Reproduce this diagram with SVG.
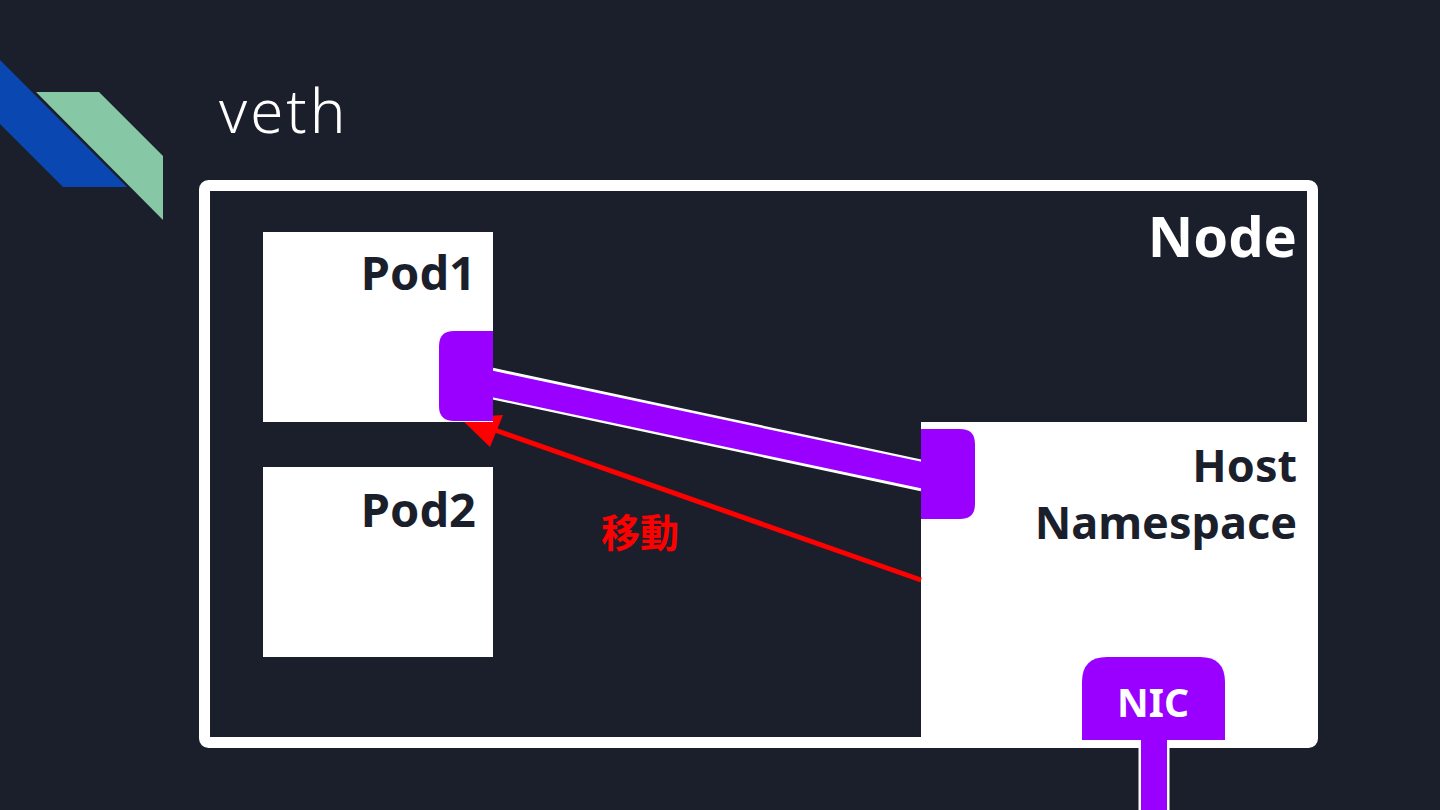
<svg xmlns="http://www.w3.org/2000/svg" width="1440" height="810" viewBox="0 0 1440 810">
<style>
.bg{fill:#1b1f2b}
.white{fill:#ffffff}
.purple{fill:#9900ff}
.lbl{font-family:"Noto Sans","Open Sans","DejaVu Sans",sans-serif;font-weight:700;fill:#1b1f2b;text-anchor:end}
</style>
<rect class="bg" x="0" y="0" width="1440" height="810"/>
<g id="logo">
<polygon points="0,60 127,187 63,187 0,124" fill="#0a47b0"/>
<polygon points="36,92 99,92 163,156 163,220" fill="#86c8a5"/>
</g>
<text id="title" x="219" y="133" font-family="Noto Sans, Open Sans, sans-serif" font-weight="300" font-size="60" letter-spacing="3" fill="#ffffff">veth</text>
<g id="node">
<rect x="204.5" y="185.5" width="1108" height="557" rx="4" fill="none" stroke="#ffffff" stroke-width="11"/>
<text x="1297" y="257" class="lbl" font-size="56" style="fill:#ffffff">Node</text>
</g>
<g id="host-namespace">
<rect class="white" x="921" y="422" width="390" height="320"/>
<text x="1297" y="482" class="lbl" font-size="45">Host</text>
<text x="1297" y="539" class="lbl" font-size="45">Namespace</text>
</g>
<g id="connectors">
<line x1="921" y1="580" x2="492" y2="429" stroke="#ff0000" stroke-width="5"/>
<polygon points="460,418 503,415 490,447" fill="#ff0000"/>
<line x1="490" y1="383" x2="924" y2="476" stroke="#ffffff" stroke-width="31"/>
<line x1="488" y1="383" x2="926" y2="476" stroke="#9900ff" stroke-width="26"/>
<rect class="white" x="1138.5" y="740" width="31" height="70"/>
<rect class="purple" x="1141" y="735" width="26" height="75"/>
</g>
<g id="pod1">
<rect class="white" x="263" y="232" width="230" height="190"/>
<text x="476" y="290" class="lbl" font-size="47">Pod1</text>
<path class="purple" d="M493,331 V421 H454 Q439,421 439,406 V346 Q439,331 454,331 Z"/>
</g>
<g id="pod2">
<rect class="white" x="263" y="467" width="230" height="190"/>
<text x="476" y="527" class="lbl" font-size="47">Pod2</text>
</g>
<g id="host-veth">
<path class="purple" d="M921,429 H960 Q975,429 975,444 V504 Q975,519 960,519 H921 Z"/>
</g>
<g id="nic">
<path class="purple" d="M1082,740 V682 Q1082,657 1107,657 H1200 Q1225,657 1225,682 V740 Z"/>
<text x="1153" y="717" font-family="Noto Sans, Open Sans, sans-serif" font-weight="700" font-size="39" fill="#ffffff" text-anchor="middle">NIC</text>
</g>
<text id="move-label" x="601" y="547" font-family="Noto Sans CJK JP, sans-serif" font-weight="700" font-size="39" fill="#ff0000">移動</text>
</svg>
